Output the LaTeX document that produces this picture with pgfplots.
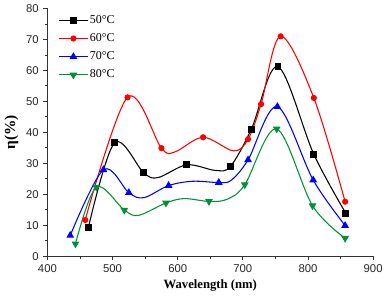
\documentclass[border=0pt]{standalone}
\usepackage{fontspec}
\setmainfont{Liberation Serif}
\newfontfamily\ticksf{Liberation Sans}
\usepackage{pgfplots}
\pgfplotsset{compat=1.18}
\definecolor{dgreen}{RGB}{0,145,55}
\begin{document}
\begin{tikzpicture}
\begin{axis}[
  scale only axis,
  width=244.5pt, height=186pt,
  xmin=400, xmax=900, ymin=0, ymax=80,
  axis x line=bottom, axis y line=left,
  axis line style={-, line width=0.8pt, black!80},
  tick align=outside,
  xtick={400,500,...,900}, ytick={0,10,...,80},
  minor tick num=1,
  major tick length=3pt, minor tick length=2pt,
  every tick/.style={black!80, line width=0.6pt},
  /pgf/number format/assume math mode=true,
  tick label style={font=\ticksf\fontsize{8.5}{9}\selectfont, black!85},
  xlabel={\bfseries Wavelength (nm)},
  ylabel={\bfseries η(\%)},
  xlabel style={font=\fontsize{9.5}{10}\selectfont, yshift=2pt},
  ylabel style={font=\fontsize{11.5}{12}\selectfont, yshift=-1pt},
  legend style={draw=none, fill=none, at={(0.02,0.995)}, anchor=north west,
    font=\fontsize{9}{10}\selectfont, row sep=2.2pt,
    nodes={inner xsep=1pt}},
  legend image code/.code={
    \draw[#1, mark indices={2}] plot coordinates {(0pt,0pt) (11pt,0pt) (22pt,0pt)};},
  legend cell align=left,
  every axis plot/.append style={line width=0.8pt, smooth, tension=0.55, mark size=2.2pt},
]
\addplot[black, mark=square*, mark indices={1,2,3,5,7,8,9,10,11}] coordinates {
(463,9.4) (503,36.6) (548,26.9) (570,25.4) (614,29.5) (658,27.7) (681,29.0) (713,41.0) (754,61.2) (809,32.9) (858,13.9)};
\addlegendentry{50°C}
\addplot[red, mark=*, mark size=1.9pt, mark indices={1,2,3,5,7,8,9,10,11}] coordinates {
(458,11.7) (523,51.3) (575,34.9) (596,33.7) (639,38.4) (686,34.0) (708,37.8) (728,49.1) (758,71.0) (809,51.1) (857,17.6)};
\addlegendentry{60°C}
\addplot[blue, mark=triangle*, mark size=2.6pt, mark indices={1,2,3,5,7,9,10,11,12}] coordinates {
(435,6.7) (486,27.9) (525,20.5) (548,18.9) (586,22.8) (623,24.2) (663,23.8) (682,24.5) (708,31.1) (753,48.3) (808,24.6) (857,9.9)};
\addlegendentry{70°C}
\addplot[dgreen, mark=triangle*, mark size=2.6pt, mark options={rotate=180}, mark indices={1,2,3,5,7,9,10,11,12}] coordinates {
(443,4.0) (475,22.3) (518,14.9) (540,13.2) (582,17.2) (610,18.6) (648,17.7) (676,18.4) (703,23.1) (752,41.1) (807,16.3) (857,5.8)};
\addlegendentry{80°C}
\end{axis}
\end{tikzpicture}
\end{document}
